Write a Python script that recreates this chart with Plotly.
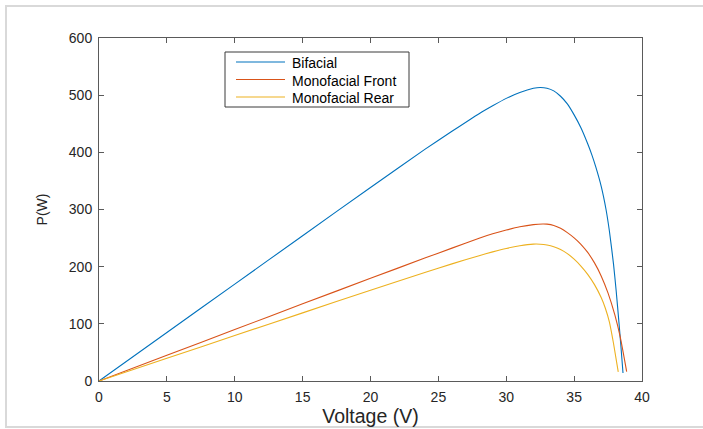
import plotly.graph_objects as go

# Data (Voltage in V, Power in W)
bifacial_v = [0, 5, 10, 15, 20, 24, 26, 28, 29, 30, 31, 32, 32.5, 33, 33.5, 34, 34.5, 35, 35.5, 36, 36.3, 36.6, 37, 37.35, 37.6, 37.9, 38.1, 38.3, 38.45, 38.6]
bifacial_p = [0, 84.8, 169.5, 254.1, 338.6, 405.1, 436.8, 467.6, 481.4, 494.4, 504.7, 512.0, 513.5, 512.2, 507.5, 498.1, 484.7, 465.5, 443.0, 415.0, 396.0, 374.0, 340.0, 300.0, 262.0, 205.0, 157.0, 103.0, 60.0, 14.0]

front_v = [0, 5, 10, 15, 20, 24, 26, 28, 29, 30, 31, 32, 32.7, 33, 33.5, 34, 34.5, 35, 35.5, 36, 36.5, 37, 37.5, 38, 38.4, 38.87]
front_p = [0, 45.0, 90.0, 135.0, 179.6, 215.0, 232.4, 249.8, 257.5, 264.0, 269.7, 273.6, 274.7, 274.4, 272.1, 267.1, 259.6, 250.4, 239.1, 224.9, 206.6, 183.4, 153.6, 115.6, 76.6, 16.5]

rear_v = [0, 5, 10, 15, 20, 24, 26, 28, 29, 30, 31, 32, 32.5, 33, 33.5, 34, 34.5, 35, 35.5, 36, 36.5, 37, 37.3, 37.6, 37.9, 38.25]
rear_p = [0, 39.75, 79.5, 119.2, 158.8, 189.8, 204.9, 219.2, 225.9, 231.9, 236.5, 239.4, 239.3, 237.9, 235.0, 230.1, 222.9, 213.1, 201.1, 186.6, 168.6, 145.6, 127.3, 103.0, 66.0, 16.0]

names = ["Bifacial", "Monofacial Front", "Monofacial Rear"]
colors = ["#0072BD", "#D95319", "#EDB120"]

x_ticks = [0, 5, 10, 15, 20, 25, 30, 35, 40]
y_ticks = [0, 100, 200, 300, 400, 500, 600]

W, H = 703, 429
L, R, T, B = 99, 642, 38, 381


def px_x(x):
    return (x - L) / (R - L)


def px_y(y):
    return (B - y) / (B - T)


fig = go.Figure()
for v, p, n, c in zip([bifacial_v, front_v, rear_v], [bifacial_p, front_p, rear_p], names, colors):
    fig.add_trace(go.Scatter(x=v, y=p, mode="lines", name=n, showlegend=False,
                             line=dict(color=c, width=1.1, shape="spline", smoothing=0.5)))

axis_color = "#5a5a5a"
font_family = "Liberation Sans, Arial, sans-serif"

fig.update_layout(
    width=W, height=H,
    margin=dict(l=L, r=W - R, t=T, b=H - B, pad=0, autoexpand=False),
    paper_bgcolor="white", plot_bgcolor="white",
    font=dict(family=font_family, color="#262626"),
    showlegend=False,
)

fig.update_xaxes(
    range=[0, 40], tickvals=x_ticks, ticktext=[str(t) for t in x_ticks],
    showgrid=False, zeroline=False, showline=True, linecolor=axis_color, linewidth=1,
    mirror="ticks", ticks="inside", ticklen=5, tickcolor=axis_color, tickwidth=1,
    tickfont=dict(size=14, family=font_family, color="#262626"), ticklabelstandoff=3,
    automargin=False,
    title=dict(text="Voltage (V)", font=dict(size=19.5, family=font_family, color="#262626"), standoff=2),
)
fig.update_yaxes(
    range=[0, 600], tickvals=y_ticks, ticktext=[str(t) for t in y_ticks],
    showgrid=False, zeroline=False, showline=True, linecolor=axis_color, linewidth=1,
    mirror="ticks", ticks="inside", ticklen=5, tickcolor=axis_color, tickwidth=1,
    tickfont=dict(size=14, family=font_family, color="#262626"), ticklabelstandoff=3,
    automargin=False,
    title=dict(text="P(W)", font=dict(size=14, family=font_family, color="#262626"), standoff=17),
)

# Light gray outer frame around the figure
fig.add_shape(type="rect", xref="paper", yref="paper",
              x0=px_x(6), x1=px_x(712), y0=px_y(427), y1=px_y(6),
              line=dict(color="#d9d9d9", width=2), fillcolor="rgba(0,0,0,0)", layer="below")

# Legend box (drawn to match the reference's compact legend)
fig.add_shape(type="rect", xref="paper", yref="paper",
              x0=px_x(225), x1=px_x(409), y0=px_y(107), y1=px_y(52),
              line=dict(color="#3a3a3a", width=1), fillcolor="white", layer="above")
row_y = [62, 79.5, 97]
for yy, n, c in zip(row_y, names, colors):
    fig.add_shape(type="line", xref="paper", yref="paper",
                  x0=px_x(236), x1=px_x(285), y0=px_y(yy), y1=px_y(yy),
                  line=dict(color=c, width=1.1), layer="above")
    fig.add_annotation(xref="paper", yref="paper", x=px_x(290), y=px_y(yy + 1.5),
                       xanchor="left", yanchor="middle", text=n, showarrow=False,
                       font=dict(size=14, family=font_family, color="#000000"))

fig.write_html("out.html", config={"displayModeBar": False},
               post_script="document.body.style.margin='0px';")
